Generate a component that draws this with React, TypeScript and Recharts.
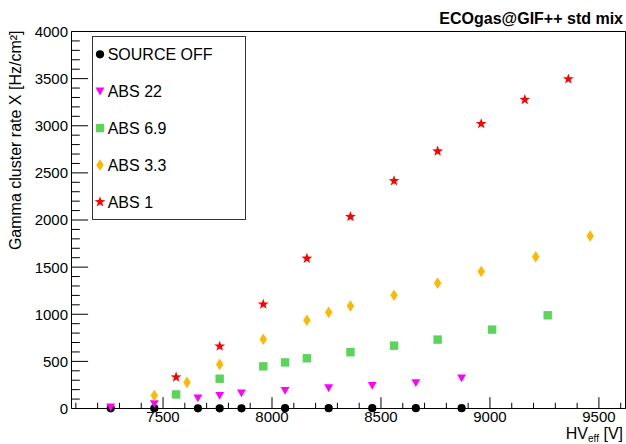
import { Legend, ReferenceLine, Scatter, ScatterChart, XAxis, YAxis } from "recharts";

const FONT = "'Liberation Sans', Arial, Helvetica, sans-serif";

// HV_eff [V] and gamma cluster rate [Hz/cm2]
const HV_SOURCE_OFF = [7260, 7460, 7660, 7760, 7860, 8060, 8260, 8460, 8660, 8870];
const RATE_SOURCE_OFF = [2, 2, 2, 2, 2, 3, 3, 3, 3, 3];

const HV_ABS22 = [7260, 7460, 7660, 7760, 7860, 8060, 8260, 8460, 8660, 8870];
const RATE_ABS22 = [14, 50, 110, 138, 163, 191, 218, 243, 273, 322];

const HV_ABS6_9 = [7560, 7760, 7960, 8060, 8160, 8360, 8560, 8760, 9010, 9265];
const RATE_ABS6_9 = [149, 316, 447, 489, 533, 597, 667, 731, 837, 989];

const HV_ABS3_3 = [7460, 7610, 7760, 7960, 8160, 8260, 8360, 8560, 8760, 8960, 9210, 9460];
const RATE_ABS3_3 = [138, 277, 468, 734, 936, 1020, 1087, 1202, 1330, 1454, 1610, 1830];

const HV_ABS1 = [7560, 7760, 7960, 8160, 8360, 8560, 8760, 8960, 9160, 9360];
const RATE_ABS1 = [333, 660, 1106, 1592, 2035, 2415, 2730, 3021, 3277, 3496];

const X_MIN = 7080;
const X_MAX = 9622;
const Y_MAX = 4000;
const X_MAJOR = [7500, 8000, 8500, 9000, 9500];
const Y_MAJOR = [0, 500, 1000, 1500, 2000, 2500, 3000, 3500, 4000];
const X_TICKS = Array.from({ length: 26 }, (_, i) => 7100 + i * 100);
const Y_TICKS = Array.from({ length: 41 }, (_, i) => i * 100);

const toPoints = (xs: number[], ys: number[]) => xs.map((x, i) => ({ x, y: ys[i] }));

type MarkProps = { cx?: number; cy?: number; color: string };

function CircleMark({ cx = 0, cy = 0, color }: MarkProps) {
  return <circle cx={cx} cy={cy} r={4.1} fill={color} />;
}

function TriangleMark({ cx = 0, cy = 0, color }: MarkProps) {
  const pts = `${cx - 4.4},${cy - 3.6} ${cx + 4.4},${cy - 3.6} ${cx},${cy + 4.2}`;
  return <polygon points={pts} fill={color} />;
}

function SquareMark({ cx = 0, cy = 0, color }: MarkProps) {
  return <rect x={cx - 4.2} y={cy - 4.2} width={8.4} height={8.4} fill={color} />;
}

function DiamondMark({ cx = 0, cy = 0, color }: MarkProps) {
  const pts = `${cx},${cy - 5.8} ${cx + 3.7},${cy} ${cx},${cy + 5.8} ${cx - 3.7},${cy}`;
  return <polygon points={pts} fill={color} />;
}

function StarMark({ cx = 0, cy = 0, color }: MarkProps) {
  const pts: string[] = [];
  for (let k = 0; k < 10; k++) {
    const r = k % 2 === 0 ? 5.6 : 2.3;
    const a = -Math.PI / 2 + (k * Math.PI) / 5;
    pts.push(`${cx + r * Math.cos(a)},${cy + r * Math.sin(a)}`);
  }
  return <polygon points={pts.join(" ")} fill={color} />;
}

const SERIES = [
  { name: "SOURCE OFF", color: "#000000", Mark: CircleMark, data: toPoints(HV_SOURCE_OFF, RATE_SOURCE_OFF) },
  { name: "ABS 22", color: "#ff00ff", Mark: TriangleMark, data: toPoints(HV_ABS22, RATE_ABS22) },
  { name: "ABS 6.9", color: "#5ad55a", Mark: SquareMark, data: toPoints(HV_ABS6_9, RATE_ABS6_9) },
  { name: "ABS 3.3", color: "#ffb800", Mark: DiamondMark, data: toPoints(HV_ABS3_3, RATE_ABS3_3) },
  { name: "ABS 1", color: "#ff0000", Mark: StarMark, data: toPoints(HV_ABS1, RATE_ABS1) },
];

function XTick(props: any) {
  const { x, y, payload } = props;
  const major = X_MAJOR.includes(payload.value);
  return (
    <g>
      <line x1={x} x2={x} y1={y} y2={y - (major ? 11.3 : 5.7)} stroke="#000" />
      {major ? (
        <text x={x} y={y + 13.5} textAnchor="middle" fontSize={15} fontFamily={FONT} fill="#000">
          {payload.value}
        </text>
      ) : null}
    </g>
  );
}

function YTick(props: any) {
  const { x, y, payload } = props;
  const major = Y_MAJOR.includes(payload.value);
  return (
    <g>
      <line x1={x} x2={x + (major ? 16.6 : 8.3)} y1={y} y2={y} stroke="#000" />
      {major ? (
        <text x={x - 3.5} y={y + 5.4} textAnchor="end" fontSize={15} fontFamily={FONT} fill="#000">
          {payload.value}
        </text>
      ) : null}
    </g>
  );
}

function LegendBox() {
  return (
    <svg width={154} height={184} style={{ display: "block" }}>
      <rect x={0.5} y={0.5} width={153} height={183} fill="#fff" stroke="#333" />
      {SERIES.map((s, i) => {
        const cy = 18.3 + i * 36.9;
        return (
          <g key={s.name}>
            <s.Mark cx={8} cy={cy} color={s.color} />
            <text x={15.7} y={cy + 5.7} fontSize={16} fontFamily={FONT} fill="#000">
              {s.name}
            </text>
          </g>
        );
      })}
    </svg>
  );
}

export default function App() {
  return (
    <div style={{ position: "absolute", left: 0, top: 0, width: 626, height: 444, background: "#fff" }}>
      <ScatterChart width={626} height={444} margin={{ top: 31.5, right: 0.5, bottom: 0, left: 0 }}>
        <XAxis
          type="number"
          dataKey="x"
          domain={[X_MIN, X_MAX]}
          ticks={X_TICKS}
          interval={0}
          height={35.5}
          tickSize={0}
          tickMargin={0}
          tickLine={false}
          axisLine={{ stroke: "#000" }}
          tick={(p: any) => <XTick {...p} />}
        />
        <YAxis
          type="number"
          dataKey="y"
          domain={[0, Y_MAX]}
          ticks={Y_TICKS}
          interval={0}
          width={71.5}
          tickSize={0}
          tickMargin={0}
          tickLine={false}
          axisLine={{ stroke: "#000" }}
          tick={(p: any) => <YTick {...p} />}
        />
        <ReferenceLine y={Y_MAX} stroke="#000" />
        <ReferenceLine x={X_MAX} stroke="#000" />
        {SERIES.map((s) => (
          <Scatter
            key={s.name}
            name={s.name}
            data={s.data}
            fill={s.color}
            isAnimationActive={false}
            shape={(p: any) => <s.Mark cx={p.cx} cy={p.cy} color={s.color} />}
          />
        ))}
        <Legend
          layout="vertical"
          align="center"
          verticalAlign="middle"
          content={() => <LegendBox />}
          wrapperStyle={{ left: 92, top: 36, width: 154, height: 184, right: "auto", bottom: "auto" }}
        />
      </ScatterChart>
      <svg
        width={626}
        height={444}
        style={{ position: "absolute", left: 0, top: 0, pointerEvents: "none" }}
      >
        <text x={623} y={24} textAnchor="end" fontSize={16} fontWeight="bold" fontFamily={FONT} fill="#000">
          ECOgas@GIF++ std mix
        </text>
        <text
          x={21}
          y={30.5}
          transform="rotate(-90 21 30.5)"
          textAnchor="end"
          fontSize={16}
          fontFamily={FONT}
          fill="#000"
        >
          Gamma cluster rate X [Hz/cm²]
        </text>
        <text x={623} y={439} textAnchor="end" fontSize={16} fontFamily={FONT} fill="#000">
          <tspan>HV</tspan>
          <tspan fontSize={10} dy={2.5}>eff</tspan>
          <tspan dy={-2.5}>{"\u00a0[V]"}</tspan>
        </text>
      </svg>
    </div>
  );
}
